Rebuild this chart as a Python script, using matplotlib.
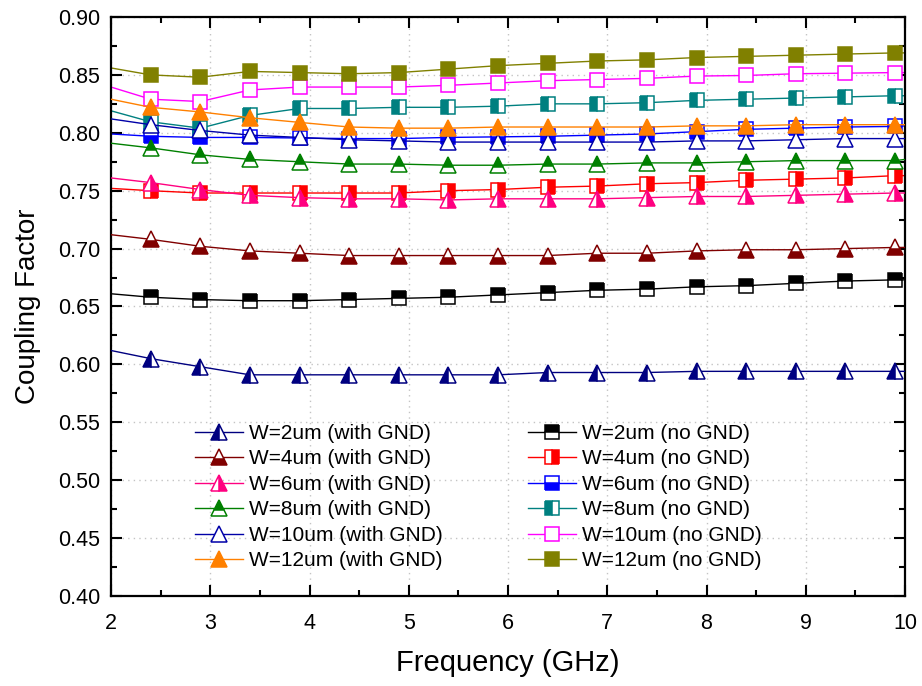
import numpy as np
import matplotlib
matplotlib.use('Agg')
import matplotlib.pyplot as plt
import matplotlib.ticker as ticker

plt.rcParams['font.family'] = ['Liberation Sans', 'DejaVu Sans']

# frequency points (GHz); markers sit on 2.4 ... 9.9
freq = [2.0, 2.4, 2.9, 3.4, 3.9, 4.4, 4.9, 5.4, 5.9, 6.4, 6.9, 7.4, 7.9, 8.4, 8.9, 9.4, 9.9, 10.0]

# with GND
w2_gnd = [0.612, 0.605, 0.598, 0.591, 0.591, 0.591, 0.591, 0.591, 0.591, 0.593, 0.593, 0.593, 0.594, 0.594, 0.594, 0.594, 0.594, 0.594]
w4_gnd = [0.712, 0.708, 0.702, 0.698, 0.696, 0.694, 0.694, 0.694, 0.694, 0.694, 0.696, 0.696, 0.698, 0.699, 0.699, 0.700, 0.701, 0.701]
w6_gnd = [0.761, 0.757, 0.751, 0.746, 0.744, 0.743, 0.743, 0.742, 0.743, 0.743, 0.743, 0.744, 0.745, 0.745, 0.746, 0.747, 0.748, 0.748]
w8_gnd = [0.791, 0.787, 0.781, 0.777, 0.775, 0.773, 0.773, 0.772, 0.772, 0.773, 0.773, 0.774, 0.774, 0.775, 0.776, 0.776, 0.776, 0.777]
w10_gnd = [0.812, 0.807, 0.802, 0.798, 0.796, 0.794, 0.793, 0.792, 0.792, 0.792, 0.792, 0.792, 0.793, 0.793, 0.794, 0.795, 0.795, 0.795]
w12_gnd = [0.829, 0.822, 0.818, 0.813, 0.809, 0.805, 0.804, 0.804, 0.805, 0.805, 0.805, 0.805, 0.806, 0.806, 0.807, 0.807, 0.807, 0.807]

# no GND
w2_no = [0.661, 0.658, 0.656, 0.655, 0.655, 0.656, 0.657, 0.658, 0.660, 0.662, 0.664, 0.665, 0.667, 0.668, 0.670, 0.672, 0.673, 0.673]
w4_no = [0.752, 0.750, 0.748, 0.748, 0.748, 0.748, 0.748, 0.750, 0.751, 0.753, 0.754, 0.756, 0.757, 0.759, 0.760, 0.761, 0.763, 0.763]
w6_no = [0.799, 0.797, 0.796, 0.796, 0.7955, 0.795, 0.795, 0.796, 0.7965, 0.797, 0.798, 0.799, 0.801, 0.803, 0.804, 0.805, 0.8055, 0.806]
w8_no = [0.819, 0.8095, 0.804, 0.815, 0.821, 0.821, 0.822, 0.822, 0.823, 0.825, 0.825, 0.826, 0.828, 0.829, 0.830, 0.831, 0.832, 0.832]
w10_no = [0.8395, 0.829, 0.827, 0.837, 0.8395, 0.8395, 0.8395, 0.841, 0.843, 0.845, 0.846, 0.847, 0.849, 0.8495, 0.851, 0.8515, 0.852, 0.852]
w12_no = [0.856, 0.850, 0.848, 0.853, 0.852, 0.851, 0.852, 0.855, 0.858, 0.860, 0.862, 0.863, 0.865, 0.866, 0.867, 0.868, 0.869, 0.869]

labels_gnd = ['W=2um (with GND)', 'W=4um (with GND)', 'W=6um (with GND)',
              'W=8um (with GND)', 'W=10um (with GND)', 'W=12um (with GND)']
labels_no = ['W=2um (no GND)', 'W=4um (no GND)', 'W=6um (no GND)',
             'W=8um (no GND)', 'W=10um (no GND)', 'W=12um (no GND)']

colors_gnd = ['#000080', '#800000', '#FF0080', '#008000', '#0000A8', '#FF8000']
colors_no = ['#000000', '#FF0000', '#0000FF', '#008080', '#FF00FF', '#808000']
fill_gnd = ['left', 'bottom', 'right', 'top', 'open', 'full']
fill_no = ['top', 'right', 'bottom', 'left', 'open', 'full']

fig = plt.figure(figsize=(9.22, 6.86), dpi=100)
ax = fig.add_axes([111/922, 1-596/686, (905-111)/922, (596-17)/686])


def draw(vals, color, marker, fs, label, ms, z):
    if fs == 'open':
        kw = dict(fillstyle='full', markerfacecolor='white')
    elif fs == 'full':
        kw = dict(fillstyle='full', markerfacecolor=color)
    else:
        kw = dict(fillstyle=fs, markerfacecolor=color, markerfacecoloralt='white')
    ln, = ax.plot(freq, vals, color=color, lw=1.0, marker=marker, ms=ms,
                  markeredgecolor=color, markeredgewidth=1.1,
                  markevery=slice(1, 17), label=label, zorder=z, **kw)
    return ln


gnd = [w2_gnd, w4_gnd, w6_gnd, w8_gnd, w10_gnd, w12_gnd]
nognd = [w2_no, w4_no, w6_no, w8_no, w10_no, w12_no]
h_gnd = []
h_no = []
# squares first, triangles on top of them
for i in range(6):
    h_no.append(draw(nognd[i], colors_no[i], 's', fill_no[i], labels_no[i], 9.5, 2 + i * 0.01))
for i in range(6):
    h_gnd.append(draw(gnd[i], colors_gnd[i], '^', fill_gnd[i], labels_gnd[i], 11, 3 + i * 0.01))

ax.set_xlim(2, 10)
ax.set_ylim(0.40, 0.90)
ax.xaxis.set_major_locator(ticker.MultipleLocator(1))
ax.xaxis.set_minor_locator(ticker.MultipleLocator(0.5))
ax.yaxis.set_major_locator(ticker.MultipleLocator(0.05))
ax.yaxis.set_minor_locator(ticker.MultipleLocator(0.025))
ax.yaxis.set_major_formatter(ticker.FormatStrFormatter('%.2f'))

ax.tick_params(which='both', direction='in', top=True, right=True, width=1.5)
ax.tick_params(which='major', length=8, labelsize=15.5)
ax.tick_params(which='minor', length=4.5)
ax.tick_params(axis='x', which='major', pad=12)
ax.tick_params(axis='y', which='major', pad=8)
for s in ax.spines.values():
    s.set_linewidth(1.6)

ax.grid(True, which='major', color='#C4C4C4', linestyle=(0, (1, 3)), linewidth=1.0)
ax.set_axisbelow(True)

ax.set_xlabel('Frequency (GHz)', fontsize=21, labelpad=11)
ax.set_ylabel('Coupling Factor', fontsize=20, labelpad=12)

fig.legend(h_gnd + h_no, labels_gnd + labels_no,
           loc='upper left', bbox_to_anchor=(195/922, 1-424/686), ncol=2,
           frameon=False, fontsize=15, handlelength=2.3, handletextpad=0.3,
           columnspacing=4.1, labelspacing=0.31, borderpad=0, borderaxespad=0,
           numpoints=1)

fig.savefig('out.png', dpi=100)
